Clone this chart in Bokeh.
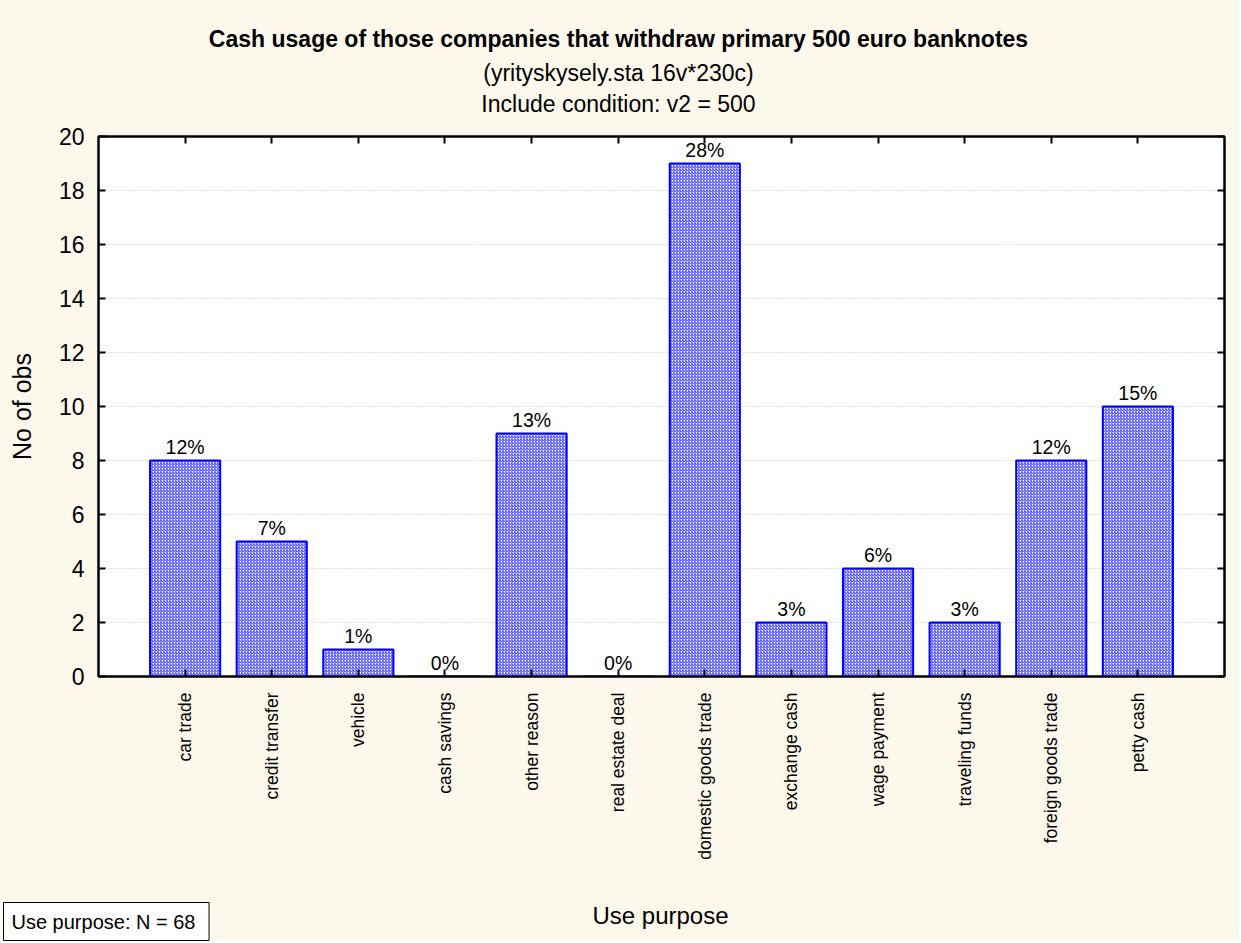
from bokeh.plotting import figure
from bokeh.models import (ColumnDataSource, Range1d, FixedTicker, LinearAxis, Label, LabelSet)
from bokeh.core.properties import value
from bokeh.layouts import column
from bokeh.embed import file_html
from bokeh.resources import INLINE
from math import pi

categories = ["car trade", "credit transfer", "vehicle", "cash savings", "other reason",
              "real estate deal", "domestic goods trade", "exchange cash", "wage payment",
              "traveling funds", "foreign goods trade", "petty cash"]
counts = [8, 5, 1, 0, 9, 0, 19, 2, 4, 2, 8, 10]
percent_labels = ["12%", "7%", "1%", "0%", "13%", "0%", "28%", "3%", "6%", "3%", "12%", "15%"]
y_ticks = [0, 2, 4, 6, 8, 10, 12, 14, 16, 18, 20]

title_text = "Cash usage of those companies that withdraw primary 500 euro banknotes"
subtitle_text = "(yrityskysely.sta 16v*230c)"
condition_text = "Include condition: v2 = 500"
x_label = "Use purpose"
y_label = "No of obs"
n_text = "Use purpose:  N = 68"

FONT = "Liberation Sans"
BG = "#FDF8EC"
W = 1239
TOP_H, MAIN_H, BOT_H = 120, 776, 45

xs = list(range(1, len(categories) + 1))
src = ColumnDataSource(dict(x=xs, top=counts, lab=percent_labels))


def strip(h):
    f = figure(width=W, height=h, output_backend="svg", toolbar_location=None,
               x_range=Range1d(0, W), y_range=Range1d(0, h),
               min_border=0, x_axis_location=None, y_axis_location=None,
               frame_align=False)
    f.border_fill_color = BG
    f.background_fill_color = BG
    f.outline_line_color = None
    f.xgrid.grid_line_color = None
    f.ygrid.grid_line_color = None
    return f


# ---- title strip ----
top = strip(TOP_H)
top.add_layout(Label(x=618, y=TOP_H - 38, text=title_text, text_align="center", text_baseline="middle",
                     text_font=FONT, text_font_size="23px", text_font_style="bold", text_color="black"))
top.add_layout(Label(x=618, y=TOP_H - 72, text=subtitle_text, text_align="center", text_baseline="middle",
                     text_font=FONT, text_font_size="23px", text_color="black"))
top.add_layout(Label(x=618, y=TOP_H - 103, text=condition_text, text_align="center", text_baseline="middle",
                     text_font=FONT, text_font_size="23px", text_color="black"))

# ---- main chart ----
p = figure(width=W, height=MAIN_H, output_backend="svg", toolbar_location=None,
           x_range=Range1d(0, 13), y_range=Range1d(0, 20),
           min_border_left=98, min_border_right=15, min_border_top=16, min_border_bottom=220,
           x_axis_location=None, y_axis_location=None, frame_align=False)
p.border_fill_color = BG
p.background_fill_color = "white"
p.outline_line_color = "black"
p.outline_line_width = 2

p.vbar(x="x", top="top", bottom=0, width=0.81, source=src,
       fill_color="white", line_color="#0000FF", line_width=2,
       hatch_pattern="right_diagonal_line", hatch_color="#2020FF", hatch_scale=3,
       hatch_weight=1, hatch_alpha=0.95)

labels = LabelSet(x="x", y="top", text="lab", source=src, text_align="center",
                  text_baseline="bottom", y_offset=3, text_font=value(FONT),
                  text_font_size="19.5px", text_color="black")
p.add_layout(labels)


def style_axis(ax, show_labels):
    ax.axis_line_color = "black"
    ax.axis_line_width = 2
    ax.major_tick_in = 7
    ax.major_tick_out = 0
    ax.major_tick_line_width = 2
    ax.major_tick_line_color = "black"
    ax.minor_tick_line_color = None
    ax.major_label_text_color = "black"
    if not show_labels:
        ax.major_label_text_font_size = "0px"
        ax.major_label_text_color = None
        ax.major_label_standoff = 0


xb = LinearAxis(ticker=FixedTicker(ticks=xs))
xb.major_label_overrides = {x: c for x, c in zip(xs, categories)}
xb.major_label_orientation = pi / 2
xb.major_label_text_font = FONT
xb.major_label_text_font_size = "17.5px"
xb.major_label_standoff = 16
style_axis(xb, True)
p.add_layout(xb, "below")

xt = LinearAxis(ticker=FixedTicker(ticks=xs))
style_axis(xt, False)
p.add_layout(xt, "above")

yl = LinearAxis(ticker=FixedTicker(ticks=y_ticks))
yl.major_label_text_font = FONT
yl.major_label_text_font_size = "23px"
yl.major_label_standoff = 14
yl.axis_label = y_label
yl.axis_label_text_font = FONT
yl.axis_label_text_font_size = "25px"
yl.axis_label_text_font_style = "normal"
yl.axis_label_text_color = "black"
yl.axis_label_standoff = 20
style_axis(yl, True)
p.add_layout(yl, "left")

yr = LinearAxis(ticker=FixedTicker(ticks=y_ticks))
style_axis(yr, False)
p.add_layout(yr, "right")

p.xgrid.grid_line_color = None
p.ygrid.ticker = FixedTicker(ticks=y_ticks)
p.ygrid.grid_line_color = "#C4C4C4"
p.ygrid.grid_line_dash = "1 2"
p.ygrid.grid_line_width = 1

# ---- bottom strip ----
bot = strip(BOT_H)
bot.add_layout(Label(x=660, y=BOT_H - 19, text=x_label, text_align="center", text_baseline="middle",
                     text_font=FONT, text_font_size="24px", text_color="black"))
bot.add_layout(Label(x=3, y=BOT_H - 25, text=n_text, text_align="left", text_baseline="middle",
                     text_font=FONT, text_font_size="20px", text_color="black",
                     background_fill_color="white", border_line_color="black",
                     border_line_width=1, padding=8))

layout = column(top, p, bot, spacing=0, styles={"background-color": BG})
open("out.html", "w").write(file_html(layout, INLINE))
